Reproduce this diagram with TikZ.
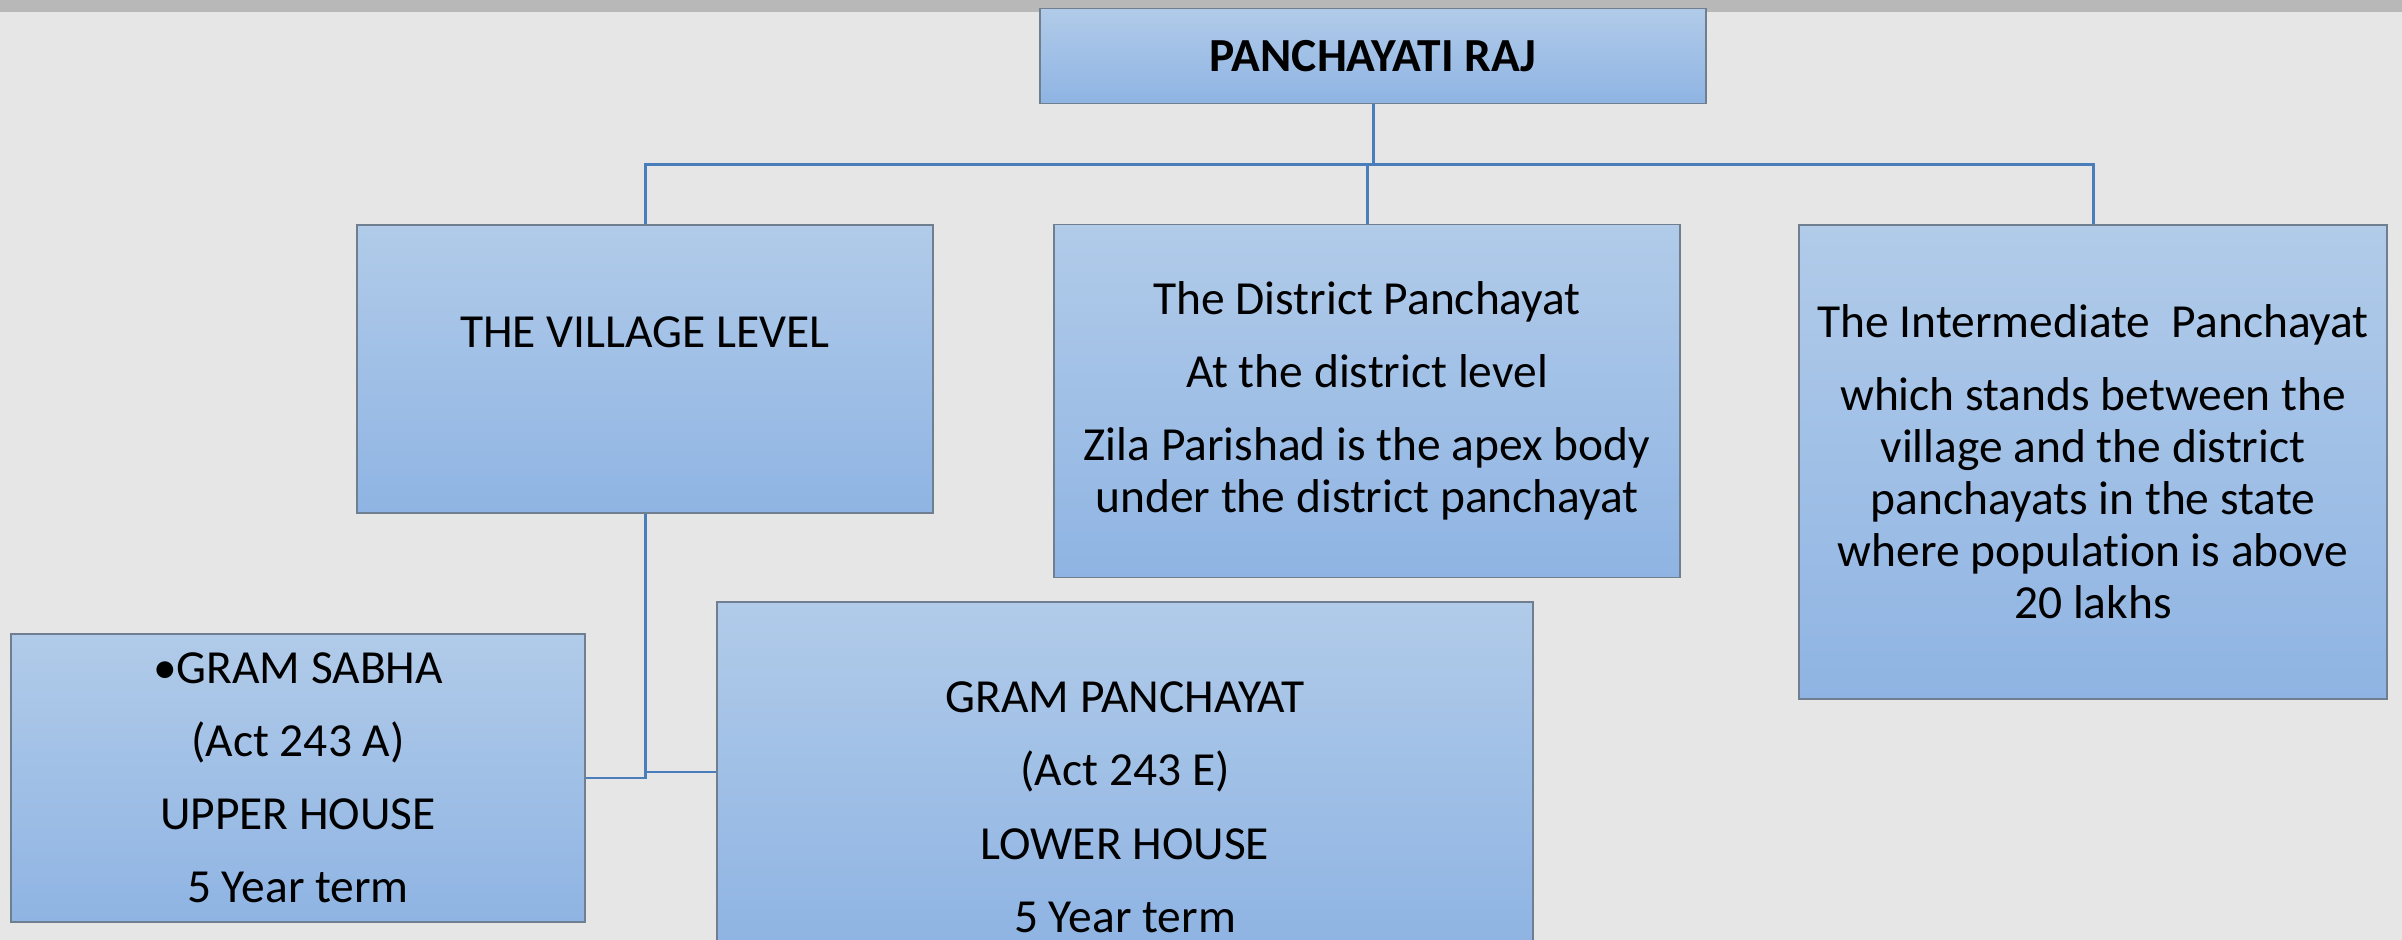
\documentclass[tikz,border=0pt]{standalone}
\usepackage{fontspec}
\setmainfont{Carlito}[Ligatures=CommonOff]
\definecolor{slidebg}{HTML}{E6E6E6}
\definecolor{slidebar}{HTML}{B8B8B8}
\definecolor{boxtop}{HTML}{B1CBE9}
\definecolor{boxbot}{HTML}{8FB4E3}
\definecolor{boxline}{HTML}{6F7F8F}
\definecolor{linkblue}{HTML}{4A7EBB}
\newcommand{\boxfont}{\fontsize{13.5}{14.8}\selectfont}
\newcommand{\gap}{6pt}

\begin{document}
\begin{tikzpicture}[x=.01cm, y=-.01cm,
    tier/.style={draw=boxline, line width=.5pt, top color=boxtop, bottom color=boxbot,
      align=center, inner sep=0pt, font=\boxfont},
    link/.style={draw=linkblue, line width=.85pt}]
  % slide
  \clip (0,0) rectangle (2402,940);
  \fill[slidebg] (0,0) rectangle (2402,940);
  \fill[slidebar] (0,0) rectangle (2402,12);

  % top
  \node (raj) at (1373,56) [tier, minimum width=6.65cm, minimum height=.95cm, font=\boxfont\bfseries] {PANCHAYATI RAJ};

  % three tiers
  \node (village) at (645,369) [tier, minimum width=5.75cm, minimum height=2.88cm] {THE VILLAGE LEVEL\\[\gap]~};
  \node (district) at (1367,401) [tier, minimum width=6.25cm, minimum height=3.53cm]
    {The District Panchayat\\[\gap]At the district level\\[\gap]Zila Parishad is the apex body\\under the district panchayat};
  \node (inter) at (2093,462) [tier, minimum width=5.87cm, minimum height=4.74cm]
    {The Intermediate\ \ Panchayat\\[\gap]which stands between the\\village and the district\\panchayats in the state\\where population is above\\20 lakhs};

  % village level
  \node (sabha) at (298,778) [tier, minimum width=5.74cm, minimum height=2.88cm]
    {\textbullet GRAM SABHA\\[\gap](Act 243 A)\\[\gap]UPPER HOUSE\\[\gap]5 Year term};
  \node (gpanch) at (1125,772) [tier, minimum width=8.15cm, minimum height=3.4cm]
    {\rule{0pt}{8pt}\\[\gap]GRAM PANCHAYAT\\[\gap](Act 243 E)\\[\gap]LOWER HOUSE\\[\gap]5 Year term};

  \draw[link] (raj.south) -- ++(0,60) coordinate (bus);
  \foreach \c in {village,district,inter}
  {
    \draw[link] (bus) -| (\c.north);
  }
  \draw[link] (village.south) |- (sabha.east);
  \draw[link] (village.south) |- (gpanch.west);
\end{tikzpicture}
\end{document}
